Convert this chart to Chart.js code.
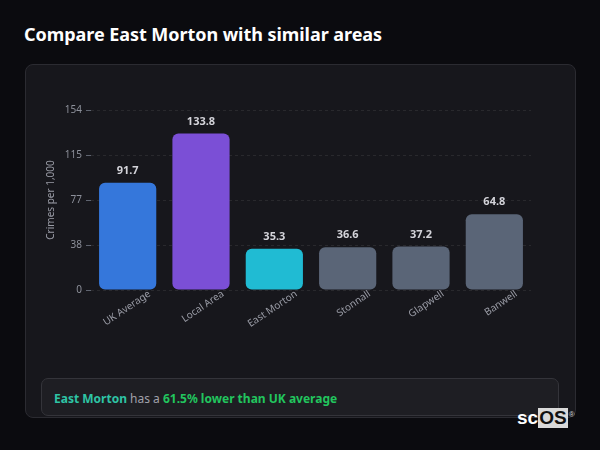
<!DOCTYPE html>
<html>
<head>
<meta charset="utf-8">
<script src="https://cdn.jsdelivr.net/npm/chart.js@4.4.0/dist/chart.umd.min.js"></script>
<style>
  html, body { margin:0; padding:0; background:#0b0b0f; width:600px; height:450px; overflow:hidden; font-family:"Noto Sans", sans-serif; }
  #title { position:absolute; left:24px; top:22px; color:#ffffff; font-size:18px; font-weight:700; letter-spacing:-0.05px; }
  #card { position:absolute; left:25px; top:64px; width:549px; height:352px; background:#17171c; border:1px solid #2b2b31; border-radius:8px; }
  #wrap { position:absolute; left:25px; top:64px; width:551px; height:314px; }
  #note { position:absolute; left:41px; top:378px; width:518px; height:38px; background:#1e1e23; border:1px solid #34343a; border-radius:7px; box-sizing:border-box; }
  #note span.t { position:absolute; left:12px; top:11px; font-size:12px; color:#a1a1aa; white-space:nowrap; }
  .teal { color:#2ec4a5; font-weight:700; }
  .green { color:#22c55e; font-weight:700; }
  #logo { position:absolute; left:517px; top:408px; height:20px; font-family:"Liberation Sans", Arial, sans-serif; font-weight:700; font-size:19px; line-height:20px; color:#ffffff; }
  #logo .os { background:#d9d9d9; color:#111; padding:0 1px; display:inline-block; line-height:20px; }
  #logo sup { position:absolute; right:-7px; top:-3px; font-size:8px; color:#ccc; font-weight:400; }
</style>
</head>
<body>
<div id="title">Compare East Morton with similar areas</div>
<div id="card"></div>
<div id="wrap"><canvas id="c" width="551" height="314"></canvas></div>
<div id="note"><span class="t"><span class="teal">East Morton</span> has a <span class="green">61.5% lower than UK average</span></span></div>
<div id="logo">sc<span class="os">OS</span><sup>®</sup></div>
<script>
const categories = ["UK Average", "Local Area", "East Morton", "Stonnall", "Glapwell", "Banwell"];
const values = [91.7, 133.8, 35.3, 36.6, 37.2, 64.8];
const barColors = ["#3577db", "#7b4fd6", "#20bbd3", "#5a6577", "#5a6577", "#5a6577"];
const tickValues = [0, 38.5, 77, 115.5, 154];
const tickLabels = ["0", "38", "77", "115", "154"];

const valueLabels = {
  id: 'valueLabels',
  afterDatasetsDraw(chart) {
    const ctx = chart.ctx;
    const meta = chart.getDatasetMeta(0);
    ctx.save();
    ctx.font = "bold 11px 'Noto Sans'";
    ctx.fillStyle = "#d4d4da";
    ctx.textAlign = "center";
    ctx.textBaseline = "middle";
    meta.data.forEach((bar, i) => {
      ctx.fillText(values[i].toFixed(1), bar.x, bar.y - 12);
    });
    ctx.restore();
  }
};

new Chart(document.getElementById('c'), {
  type: 'bar',
  data: {
    labels: categories,
    datasets: [{
      data: values,
      backgroundColor: barColors,
      borderRadius: 6,
      borderSkipped: false,
      categoryPercentage: 1,
      barPercentage: 0.78
    }]
  },
  options: {
    responsive: false,
    animation: false,
    devicePixelRatio: 1,
    layout: { padding: { left: 0, top: 46, right: 45, bottom: 0 } },
    plugins: { legend: { display: false }, tooltip: { enabled: false } },
    scales: {
      x: {
        grid: { display: false },
        border: { display: false },
        ticks: {
          color: "#9a9ca6",
          font: { size: 10, family: "'Noto Sans'" },
          minRotation: 34,
          maxRotation: 34,
          padding: -10,
          labelOffset: 22
        },
        afterFit(scale) { scale.height = 88; }
      },
      y: {
        min: 0,
        max: 154,
        border: { display: false, dash: [3, 3] },
        grid: {
          color: "rgba(255,255,255,0.08)",
          tickColor: "#5f6470",
          tickLength: 5,
          tickBorderDash: [],
          drawTicks: true
        },
        afterBuildTicks(scale) { scale.ticks = tickValues.map(v => ({ value: v })); },
        ticks: {
          color: "#8d909a",
          font: { size: 10, family: "'Noto Sans'" },
          padding: 4,
          callback(value, index) { return tickLabels[index]; }
        },
        title: {
          display: true,
          text: "Crimes per 1,000",
          color: "#9a9ca6",
          font: { size: 10, family: "'Noto Sans'" },
          padding: { top: 20, bottom: 0 }
        },
        afterFit(scale) { scale.width = 66; }
      }
    }
  },
  plugins: [valueLabels]
});
</script>
</body>
</html>
